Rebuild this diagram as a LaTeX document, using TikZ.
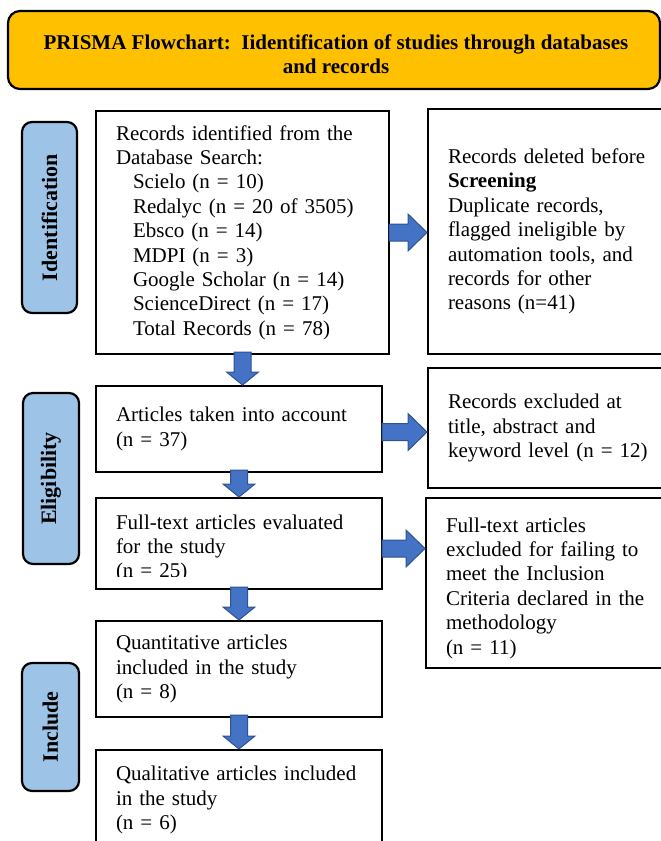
\documentclass[tikz,border=0pt]{standalone}
\usepackage{fontspec}
\setmainfont{Liberation Serif}
\usetikzlibrary{calc}
\definecolor{hdr}{HTML}{FFC000}
\definecolor{lbl}{HTML}{9DC3E6}
\definecolor{arf}{HTML}{4472C4}
\definecolor{ard}{HTML}{2F528F}
\tikzset{
  txt/.style={font=\fontsize{21pt}{24.4pt}\selectfont},
  box/.style={txt, draw, line width=2pt, rectangle, anchor=north west, align=left,
    inner xsep=20pt, inner ysep=0pt},
  lab/.style={draw, line width=2.2pt, fill=lbl, rounded corners=10pt, rotate=90,
    font=\fontsize{22pt}{25pt}\selectfont\bfseries, inner sep=0pt},
  blk/.style={fill=arf, draw=ard, line width=1pt},
}
\newcommand\vblock[2]{\filldraw[blk] let \p1=(#1), \p2=(#2) in
  (\x1-8.5pt,\y1+3pt) -- (\x1+8.5pt,\y1+3pt) -- (\x1+8.5pt,\y2+13pt) -- (\x1+16pt,\y2+13pt)
  -- (\x1,\y2) -- (\x1-16pt,\y2+13pt) -- (\x1-8.5pt,\y2+13pt) -- cycle;}
\newcommand\hblock[3]{\filldraw[blk] let \p1=($(#1)+(0,#3)$), \p2=(#2) in
  (\x1-1pt,\y1+8.5pt) -- (\x2-19pt,\y1+8.5pt) -- (\x2-19pt,\y1+18.5pt) -- (\x2,\y1)
  -- (\x2-19pt,\y1-18.5pt) -- (\x2-19pt,\y1-8.5pt) -- (\x1-1pt,\y1-8.5pt) -- cycle;}
\begin{document}
\begin{tikzpicture}[x=1pt,y=-1pt]
\useasboundingbox (0,0) rectangle (661,841);
% header
\node[draw, line width=2.2pt, fill=hdr, rounded corners=12pt, minimum width=652pt,
  minimum height=78pt, inner sep=0pt] (hd) at (334,50) {};
\node[align=center, inner sep=0pt, font=\fontsize{21pt}{24.4pt}\selectfont\bfseries]
  (hdt) at (336,54)
  {PRISMA Flowchart:\ \ Iidentification of studies through databases\\ and records};
% side labels
\node[lab, minimum width=191pt, minimum height=55pt] (l1) at (49.5,217.5) {Identification};
\node[lab, minimum width=171pt, minimum height=56pt] (l2) at (51,478.5) {Eligibility};
\node[lab, minimum width=128pt, minimum height=57pt] (l3) at (50.5,727) {Include};
% boxes
\node[box, text width=253pt, minimum height=243pt] (b1) at (95,110)
  {Records identified from the\\ Database Search:\\
   \hspace*{17pt}Scielo (n = 10)\\
   \hspace*{17pt}Redalyc (n = 20 of 3505)\\
   \hspace*{17pt}Ebsco (n = 14)\\
   \hspace*{17pt}MDPI (n = 3)\\
   \hspace*{17pt}Google Scholar (n = 14)\\
   \hspace*{17pt}ScienceDirect (n = 17)\\
   \hspace*{17pt}Total Records (n = 78)};
\node[box, text width=205pt, minimum height=245pt] (b2) at (427,108)
  {Records deleted before\\ \textbf{Screening}\\ Duplicate records,\\ flagged ineligible by\\
   automation tools, and\\ records for other\\ reasons (n=41)};
\node[box, text width=246pt, minimum height=86pt] (b3) at (95,385)
  {Articles taken into account\\ (n = 37)};
\node[box, text width=205pt, minimum height=120pt] (b4) at (427,367)
  {Records excluded at\\ title, abstract and\\ keyword level (n = 12)};
\node[box, text width=246pt, minimum height=91pt] (b5) at (95,497) {};
\begin{scope}
  \clip (95,497) rectangle (381,576.5);
  \node[box, draw=none, text width=246pt, minimum height=91pt, yshift=-5pt] (b5t) at (95,497)
    {Full-text articles evaluated\\ for the study\\ (n = 25)};
\end{scope}
\node[box, minimum width=245pt, minimum height=170pt] (b6) at (425,497) {};
\node[box, draw=none, text width=205pt, minimum height=170pt, yshift=-5pt] (b6t) at (425,497)
  {Full-text articles\\ excluded for failing to\\ meet the Inclusion\\
   Criteria declared in the\\ methodology\\ (n = 11)};
\node[box, text width=246pt, minimum height=96pt] (b7) at (95,620)
  {Quantitative articles\\ included in the study\\ (n = 8)};
\node[box, text width=246pt, minimum height=100pt] (b8) at (95,749)
  {Qualitative articles included\\ in the study\\ (n = 6)};
% arrows
\vblock{b1.south}{b3.north}
\vblock{b3.south}{b5.north}
\vblock{b5.south}{b7.north}
\vblock{b7.south}{b8.north}
\hblock{b1.east}{b2.west}{0}
\hblock{b3.east}{b4.west}{3}
\hblock{b5.east}{b6.west}{5}
\end{tikzpicture}
\end{document}
